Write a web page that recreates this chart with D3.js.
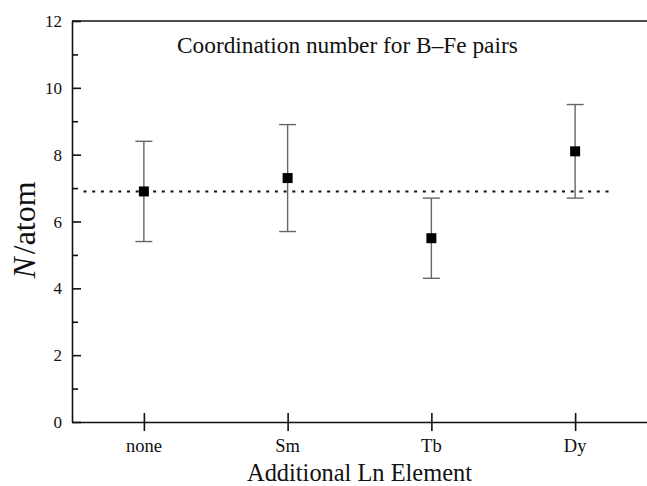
<!DOCTYPE html>
<html><head><meta charset="utf-8">
<script src="https://cdn.jsdelivr.net/npm/d3@7"></script>
<style>body{margin:0;background:#fff}svg{display:block}</style>
</head><body>
<svg id="c" width="647" height="486"></svg>
<script>
const categories = ["none", "Sm", "Tb", "Dy"];
const values = [6.9, 7.3, 5.5, 8.1];
const errLow = [5.4, 5.7, 4.3, 6.7];
const errHigh = [8.4, 8.9, 6.7, 9.5];
const refLevel = 6.9;
const refSpan = [0.58, 4.24];
const yTicks = [0, 2, 4, 6, 8, 10, 12];
const yMinor = [1, 3, 5, 7, 9, 11];

const FONT = "'Liberation Serif', 'DejaVu Serif', serif";
const svg = d3.select("#c");
const L = 72, R = 647, T = 21, B = 422;
const x = d3.scaleLinear().domain([0.5, 4.5]).range([L, R]);
const y = d3.scaleLinear().domain([0, 12]).range([B, T]);

function fit(sel, w) {
  sel.each(function () {
    const s = d3.select(this);
    const cur = this.getComputedTextLength();
    const fs = parseFloat(s.attr("font-size"));
    s.attr("font-size", fs * w / cur);
  });
}

// top frame line
svg.append("line").attr("x1", L).attr("x2", R).attr("y1", T).attr("y2", T).attr("stroke", "#111").attr("stroke-width", 1.6);

// y axis
const gy = svg.append("g").attr("transform", `translate(${L},0)`)
  .call(d3.axisRight(y).tickValues(yTicks).tickSize(9).tickSizeOuter(0).tickFormat(""));
gy.select(".domain").attr("stroke", "#111").attr("stroke-width", 1.6);
gy.selectAll(".tick line").attr("stroke", "#111").attr("stroke-width", 1.6);
const gym = svg.append("g").attr("transform", `translate(${L},0)`)
  .call(d3.axisRight(y).tickValues(yMinor).tickSize(6).tickSizeOuter(0).tickFormat(""));
gym.select(".domain").remove();
gym.selectAll(".tick line").attr("stroke", "#111").attr("stroke-width", 1.6);
svg.append("g").selectAll("text").data(yTicks).join("text")
  .attr("x", L - 10).attr("y", d => y(d) + 6).attr("text-anchor", "end")
  .attr("font-family", FONT).attr("fill", "#111")
  .attr("font-size", 17).text(d => d);

// x axis
const gx = svg.append("g").attr("transform", `translate(0,${B})`)
  .call(d3.axisBottom(x).tickValues([1, 2, 3, 4]).tickSize(9).tickSizeOuter(0).tickFormat(""));
gx.select(".domain").attr("stroke", "#111").attr("stroke-width", 1.6);
gx.selectAll(".tick line").attr("y1", -9).attr("stroke", "#111").attr("stroke-width", 1.6);
svg.append("g").selectAll("text").data(categories).join("text")
  .attr("x", (d, i) => x(i + 1)).attr("y", 452).attr("text-anchor", "middle")
  .attr("font-family", FONT).attr("fill", "#111")
  .attr("font-size", 18.5).text(d => d);

// reference dotted line
svg.append("line").attr("x1", x(refSpan[0])).attr("x2", x(refSpan[1]))
  .attr("y1", y(refLevel)).attr("y2", y(refLevel))
  .attr("stroke", "#111").attr("stroke-width", 2).attr("stroke-dasharray", "3,5.7");

// error bars
const eb = svg.append("g").attr("stroke", "#666").attr("stroke-width", 1.4);
categories.forEach((c, i) => {
  const cx = x(i + 1);
  eb.append("line").attr("x1", cx).attr("x2", cx).attr("y1", y(errLow[i])).attr("y2", y(errHigh[i]));
  eb.append("line").attr("x1", cx - 8.5).attr("x2", cx + 8.5).attr("y1", y(errLow[i])).attr("y2", y(errLow[i]));
  eb.append("line").attr("x1", cx - 8.5).attr("x2", cx + 8.5).attr("y1", y(errHigh[i])).attr("y2", y(errHigh[i]));
});
svg.append("g").selectAll("rect").data(values).join("rect")
  .attr("x", (d, i) => x(i + 1) - 5).attr("y", d => y(d) - 5)
  .attr("width", 10).attr("height", 10).attr("fill", "#000");

// title
const t = svg.append("text").attr("x", 177).attr("y", 53).attr("font-family", FONT).attr("fill", "#111")
  .attr("font-size", 20).text("Coordination number for B\u2013Fe pairs");
fit(t, 341);
// axis titles
const xt = svg.append("text").attr("x", 359.5).attr("y", 481).attr("text-anchor", "middle")
  .attr("font-family", FONT).attr("fill", "#111").attr("font-size", 22).text("Additional Ln Element");
fit(xt, 225);
const yt = svg.append("text").attr("transform", "translate(35,230) rotate(-90)").attr("text-anchor", "middle")
  .attr("font-family", FONT).attr("fill", "#111").attr("font-size", 23);
yt.append("tspan").attr("font-style", "italic").text("N");
yt.append("tspan").attr("dx", 3).text("/atom");
fit(yt, 94);
</script>
</body></html>
